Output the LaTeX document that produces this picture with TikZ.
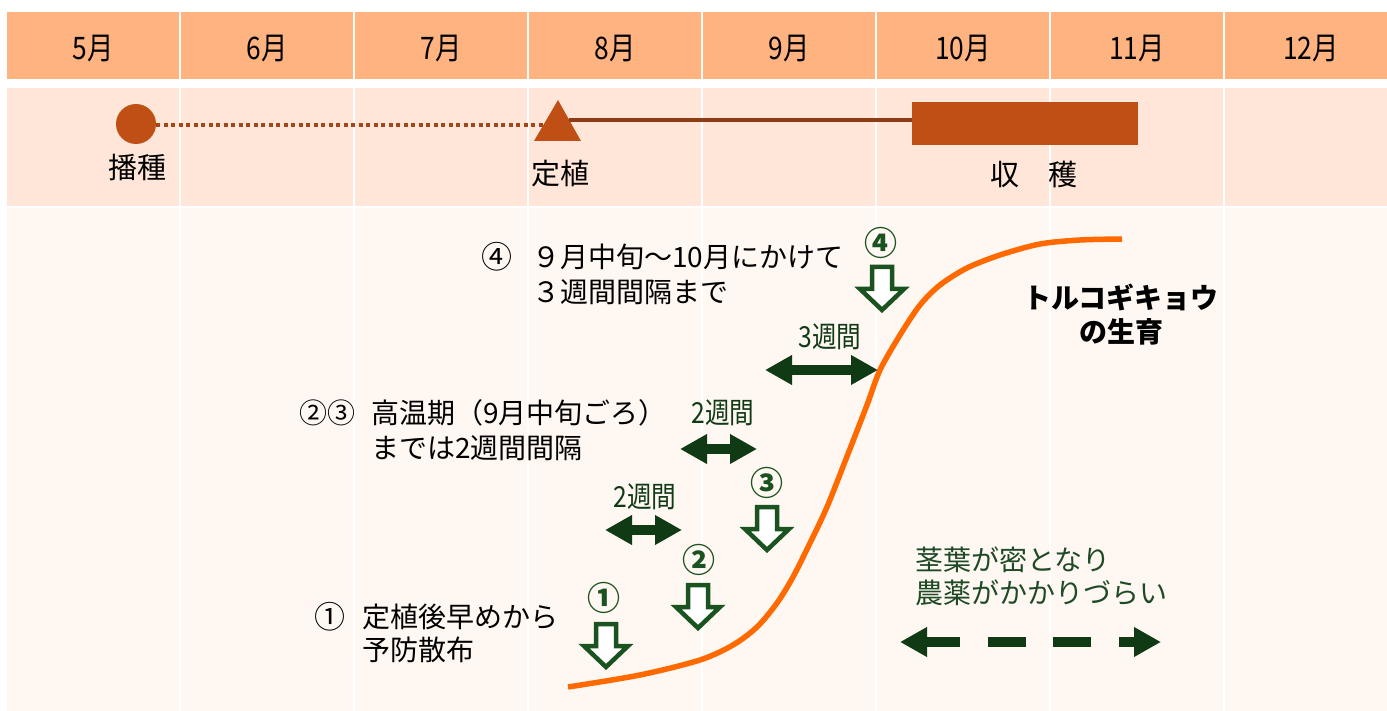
\documentclass[tikz,border=0pt]{standalone}
\usepackage{fontspec}
\setmainfont{Noto Sans CJK JP}
\newfontfamily\cond[FakeStretch=0.85]{Noto Sans CJK JP}
\newfontfamily\hdrfont[FakeStretch=0.85]{Noto Sans CJK JP}
\usetikzlibrary{arrows.meta}
\definecolor{hdrc}{HTML}{FFB380}
\definecolor{bandc}{HTML}{FFE6D9}
\definecolor{lowc}{HTML}{FFF7F2}
\definecolor{brownc}{HTML}{C04F15}
\definecolor{dotc}{HTML}{A3461C}
\definecolor{linec}{HTML}{8E3C16}
\definecolor{curvec}{HTML}{FF6A00}
\definecolor{garr}{HTML}{1B5320}
\definecolor{gdark}{HTML}{0F3A14}
\definecolor{gtext}{HTML}{1E4A26}
\newcommand\dnarrow[2]{%
  \draw[dnarr] ({#1-10},{#2+2}) -- ({#1+10},{#2+2}) -- ({#1+10},{#2+24}) -- ({#1+22},{#2+24})
   -- ({#1},{#2+45}) -- ({#1-22},{#2+24}) -- ({#1-10},{#2+24}) -- cycle;}
\begin{document}
\begin{tikzpicture}[x=1pt,y=-1pt,
  hdrtxt/.style={font=\hdrfont\fontsize{31}{33}\selectfont, inner sep=0},
  lbl/.style={font=\fontsize{29}{31}\selectfont, inner sep=0},
  body/.style={font=\fontsize{28}{30}\selectfont, inner sep=0, anchor=west},
  gnum/.style={font=\bfseries\fontsize{33}{34}\selectfont, text=garr, inner sep=0},
  gweek/.style={font=\cond\fontsize{29}{30}\selectfont, text=gdark, inner sep=0},
  gbody/.style={font=\fontsize{28}{30}\selectfont, text=gtext, inner sep=0, anchor=west},
  dnarr/.style={draw=garr, fill=white, line width=4.5, line join=miter},
  dbl/.style={gdark, line width=10, {Triangle[length=27pt,width=28pt]}-{Triangle[length=27pt,width=28pt]}},
  sgl/.style={gdark, line width=10, -{Triangle[length=27pt,width=28pt]}},
  dsh/.style={gdark, line width=10},
]
\useasboundingbox (0,0) rectangle (1387,711);
\fill[white] (0,0) rectangle (1387,711);
\foreach \i in {0,...,7} {
  \pgfmathsetmacro\xa{7+174*\i}
  \pgfmathsetmacro\xb{min(\xa+172,1387)}
  \fill[hdrc] (\xa,12) rectangle (\xb,79);
  \fill[bandc] (\xa,88) rectangle (\xb,206);
  \fill[lowc] (\xa,208) rectangle (\xb,711);
}
\foreach \m [count=\i from 0] in {5,...,12}
  \node[hdrtxt] (m\m) at ({7+174*\i+86},49) {\m 月};

% timeline
\node[circle, fill=brownc, minimum size=40, inner sep=0] (sow) at (136,124) {};
\coordinate (plant) at (558,125);
\fill[brownc] (558,100) -- (581,141) -- (534,141) -- cycle;
\node[fill=brownc, minimum width=226, minimum height=43, inner sep=0] (harv) at (1025,123.5) {};
\coordinate (dotend) at (545,125);
\draw[dotc, line width=4, dash pattern=on 4 off 3.5] (sow.east |- dotend) -- (dotend);
\coordinate (plantR) at (569,120);
\draw[linec, line width=3.5] (plantR) -- (harv.west |- plantR);
\node[lbl] (lsow) at (137,168) {播種};
\node[lbl] (lplant) at (560,174) {定植};
\node[lbl] (lharv) at (1034,174) {収　穫};

% growth curve
\draw[curvec, line width=5.5] plot[smooth, tension=0.5] coordinates {
  (568,687) (640,675) (700,660) (733,645) (757,627) (777,603) (793,577) (810,543)
  (827,507) (846,459) (867,405) (880,370) (900,335) (920,305) (940,285) (967,268)
  (1000,255) (1040,244) (1080,240) (1122,239)};
\node[font=\bfseries\fontsize{28}{30}\selectfont, inner sep=0] (g1) at (1121,297) {トルコギキョウ};
\node[font=\bfseries\fontsize{28}{30}\selectfont, inner sep=0] (g2) at (1121,332) {の生育};

% spray arrows
\node[gnum] (n1) at (604,598) {①};
\dnarrow{606}{622}
\node[gnum] (n2) at (699,560) {②};
\dnarrow{698}{583}
\node[gnum] (n3) at (767,483) {③};
\dnarrow{767}{505}
\node[gnum] (n4) at (881,243) {④};
\dnarrow{882}{265}

% interval arrows
\node[gweek] (w1) at (645,497) {2週間};
\coordinate (w1a) at (605,530); \coordinate (w1b) at (682,530);
\draw[dbl] (w1a) -- (w1b);
\node[gweek] (w2) at (723,413) {2週間};
\coordinate (w2a) at (680,449); \coordinate (w2b) at (757,449);
\draw[dbl] (w2a) -- (w2b);
\node[gweek] (w3) at (830,337) {3週間};
\coordinate (w3a) at (765,370); \coordinate (w3b) at (878,370);
\draw[dbl] (w3a) -- (w3b);

% black texts
\node[font=\fontsize{31}{32}\selectfont, inner sep=0] (t4n) at (497,257) {④};
\node[body] (t4a) at (532,257) {９月中旬～10月にかけて};
\node[body] (t4b) at (532,292) {３週間間隔まで};
\node[body] (t23n) at (299,413) {②③};
\node[body] (t23a) at (371,413) {高温期（9月中旬ごろ）};
\node[body] (t23b) at (371,448) {までは2週間間隔};
\node[font=\fontsize{31}{32}\selectfont, inner sep=0] (t1n) at (330,617) {①};
\node[body] (t1a) at (362,617) {定植後早めから};
\node[body] (t1b) at (362,650) {予防散布};

% dense foliage note
\node[gbody] (d1) at (915,560) {茎葉が密となり};
\node[gbody] (d2) at (915,593) {農薬がかかりづらい};
\coordinate (la) at (960,642); \coordinate (lb) at (900,642);
\draw[sgl] (la) -- (lb);
\coordinate (da1) at (988,642); \coordinate (db1) at (1026,642);
\draw[dsh] (da1) -- (db1);
\coordinate (da2) at (1053,642); \coordinate (db2) at (1091,642);
\draw[dsh] (da2) -- (db2);
\coordinate (ra) at (1119,642); \coordinate (rb) at (1161,642);
\draw[sgl] (ra) -- (rb);
\end{tikzpicture}
\end{document}
